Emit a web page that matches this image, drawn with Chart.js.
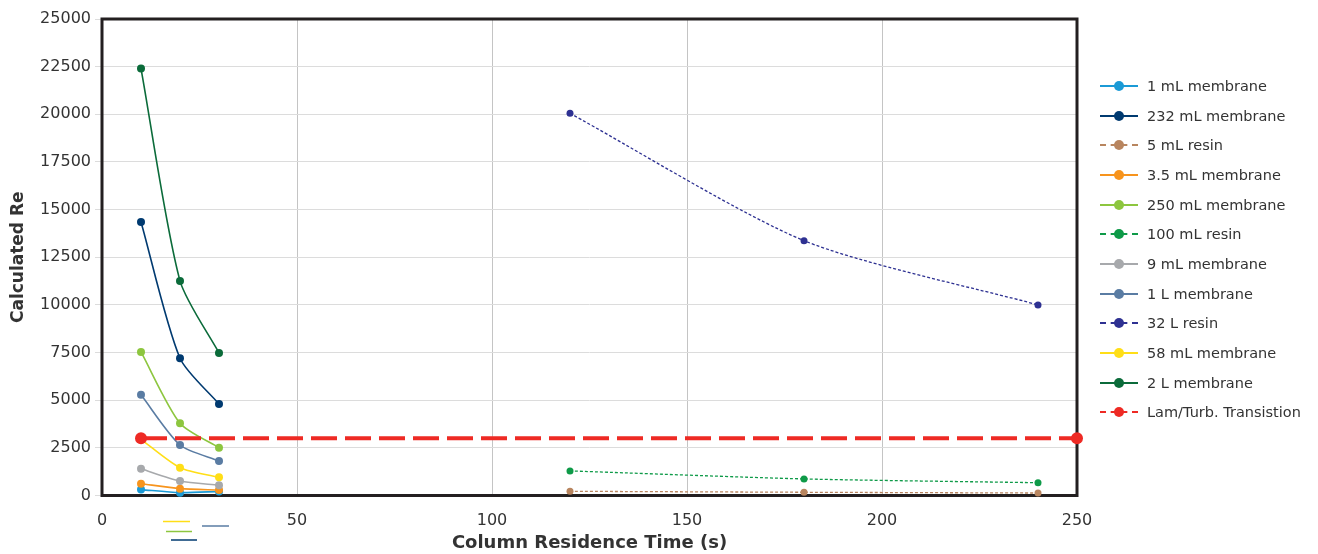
<!DOCTYPE html>
<html>
<head>
<meta charset="utf-8">
<script src="https://cdn.jsdelivr.net/npm/chart.js@4"></script>
<style>
  body { margin: 0; background: #fff; }
  #wrap { position: relative; width: 1318px; height: 554px; }
  #legend { position: absolute; left: 1100px; top: 71px; font-family: "DejaVu Sans", sans-serif; font-size: 14.5px; color: #333; }
  .item { height: 29.7px; display: flex; align-items: center; white-space: nowrap; }
  .key { position: relative; width: 38px; height: 12px; margin-right: 9px; }
  .key .ln { position: absolute; left: 0; right: 0; top: 5px; height: 0; border-top: 2px solid; }
  .key .dot { position: absolute; left: 14px; top: 1px; width: 10px; height: 10px; border-radius: 50%; }
</style>
</head>
<body>
<div id="wrap">
  <canvas id="chart-line" width="1318" height="554"></canvas>
  <div id="legend"></div>
</div>
<script>
// residence times (s)
const membraneTimes = [10, 20, 30];
const resinTimes = [120, 180, 240];
const transitionTimes = [10, 250];

// calculated Re values
const oneMlMembrane = [310, 150, 210];
const mem232Ml = [14350, 7200, 4800];
const resin5Ml = [220, 170, 130];
const mem3_5Ml = [620, 360, 290];
const mem250Ml = [7530, 3790, 2510];
const resin100Ml = [1290, 870, 670];
const mem9Ml = [1400, 760, 540];
const mem1L = [5280, 2650, 1810];
const resin32L = [20050, 13370, 10000];
const mem58Ml = [2950, 1460, 955];
const mem2L = [22400, 11260, 7480];
const transitionRe = [3000, 3000];

const xTicks = [0, 50, 100, 150, 200, 250];

function pts(xs, ys) {
  return xs.map((x, i) => ({ x: x, y: ys[i] }));
}

const series = [
  { label: "1 mL membrane", color: "#1b9ad6", xs: membraneTimes, ys: oneMlMembrane },
  { label: "232 mL membrane", color: "#003a70", xs: membraneTimes, ys: mem232Ml },
  { label: "5 mL resin", color: "#b8855f", xs: resinTimes, ys: resin5Ml, dashed: true },
  { label: "3.5 mL membrane", color: "#f7941d", xs: membraneTimes, ys: mem3_5Ml },
  { label: "250 mL membrane", color: "#8dc63f", xs: membraneTimes, ys: mem250Ml },
  { label: "100 mL resin", color: "#0e9a48", xs: resinTimes, ys: resin100Ml, dashed: true },
  { label: "9 mL membrane", color: "#a7a9ac", xs: membraneTimes, ys: mem9Ml },
  { label: "1 L membrane", color: "#5a7ca3", xs: membraneTimes, ys: mem1L },
  { label: "32 L resin", color: "#2e3192", xs: resinTimes, ys: resin32L, dashed: true },
  { label: "58 mL membrane", color: "#ffde17", xs: membraneTimes, ys: mem58Ml },
  { label: "2 L membrane", color: "#0b6b3a", xs: membraneTimes, ys: mem2L },
  { label: "Lam/Turb. Transistion", color: "#ee2a24", xs: transitionTimes, ys: transitionRe, dashed: true, big: true },
];

const datasets = series.map((s, i) => ({
  label: s.label,
  data: pts(s.xs, s.ys),
  borderColor: s.color,
  backgroundColor: s.color,
  pointBackgroundColor: s.color,
  pointBorderWidth: 0,
  pointRadius: s.big ? 6 : (s.dashed ? 3.5 : 4),
  borderWidth: s.big ? 4 : (s.dashed ? 1.3 : 1.6),
  borderDash: s.big ? [26, 8] : (s.dashed ? [3, 2] : []),
  tension: s.big ? 0 : 0.25,
  order: -i,
  clip: false,
}));

// box round the plot area plus the stray keys below the axis
const framePlugin = {
  id: "frame",
  beforeDatasetsDraw(chart) {
    const { ctx, chartArea: a } = chart;
    ctx.save();
    ctx.strokeStyle = "#231f20";
    ctx.lineWidth = 3;
    ctx.strokeRect(a.left, a.top, a.right - a.left, a.bottom - a.top);
    ctx.restore();
  },
  afterDraw(chart) {
    const { ctx, chartArea: a } = chart;
    const strays = [
      ["#ffde17", 61, 27, 26],
      ["#5a7ca3", 100, 27, 30.5],
      ["#8dc63f", 64, 26, 36],
      ["#003a70", 69, 26, 44.5],
    ];
    ctx.save();
    ctx.lineWidth = 1.5;
    strays.forEach(([c, dx, w, dy]) => {
      ctx.strokeStyle = c;
      ctx.beginPath();
      ctx.moveTo(a.left + dx, a.bottom + dy);
      ctx.lineTo(a.left + dx + w, a.bottom + dy);
      ctx.stroke();
    });
    ctx.restore();
  },
};

const ctx = document.getElementById("chart-line");
const chart = new Chart(ctx, {
  type: "line",
  data: { datasets: datasets },
  plugins: [framePlugin],
  options: {
    responsive: false,
    animation: false,
    devicePixelRatio: 1,
    layout: { padding: { top: 19, right: 241, left: 0, bottom: 0 } },
    plugins: { legend: { display: false }, tooltip: { enabled: false } },
    scales: {
      x: {
        type: "linear",
        min: 0,
        max: 250,
        afterBuildTicks: (scale) => { scale.ticks = xTicks.map((v) => ({ value: v })); },
        afterFit: (scale) => { scale.height = 58.5; },
        grid: { color: "#c4c4c4", drawTicks: false, lineWidth: 1 },
        border: { display: false },
        ticks: { color: "#333", padding: 16, font: { family: "DejaVu Sans", size: 16 }, callback: (v) => String(v) },
        title: {
          display: true,
          text: "Column Residence Time (s)",
          color: "#333",
          padding: { top: 0, bottom: 0 },
          font: { family: "DejaVu Sans", size: 18, weight: "bold" },
        },
      },
      y: {
        min: 0,
        max: 25000,
        afterFit: (scale) => { scale.width = 102; },
        grid: { color: "#dcdcdc", tickLength: 7, lineWidth: 1 },
        border: { display: false },
        ticks: { stepSize: 2500, color: "#333", padding: 4, font: { family: "DejaVu Sans", size: 16 }, callback: (v) => String(v) },
        title: {
          display: true,
          text: "Calculated Re",
          color: "#333",
          padding: { top: 8, bottom: 0 },
          font: { family: "DejaVu Sans", size: 17, weight: "bold" },
        },
      },
    },
  },
});

// html legend with line + marker keys
const legend = document.getElementById("legend");
series.forEach((s) => {
  const item = document.createElement("div");
  item.className = "item";
  const style = s.dashed ? "dashed" : "solid";
  item.innerHTML =
    `<span class="key"><span class="ln" style="border-top-color:${s.color};border-top-style:${style}"></span>` +
    `<span class="dot" style="background:${s.color}"></span></span><span>${s.label}</span>`;
  legend.appendChild(item);
});
</script>
</body>
</html>
